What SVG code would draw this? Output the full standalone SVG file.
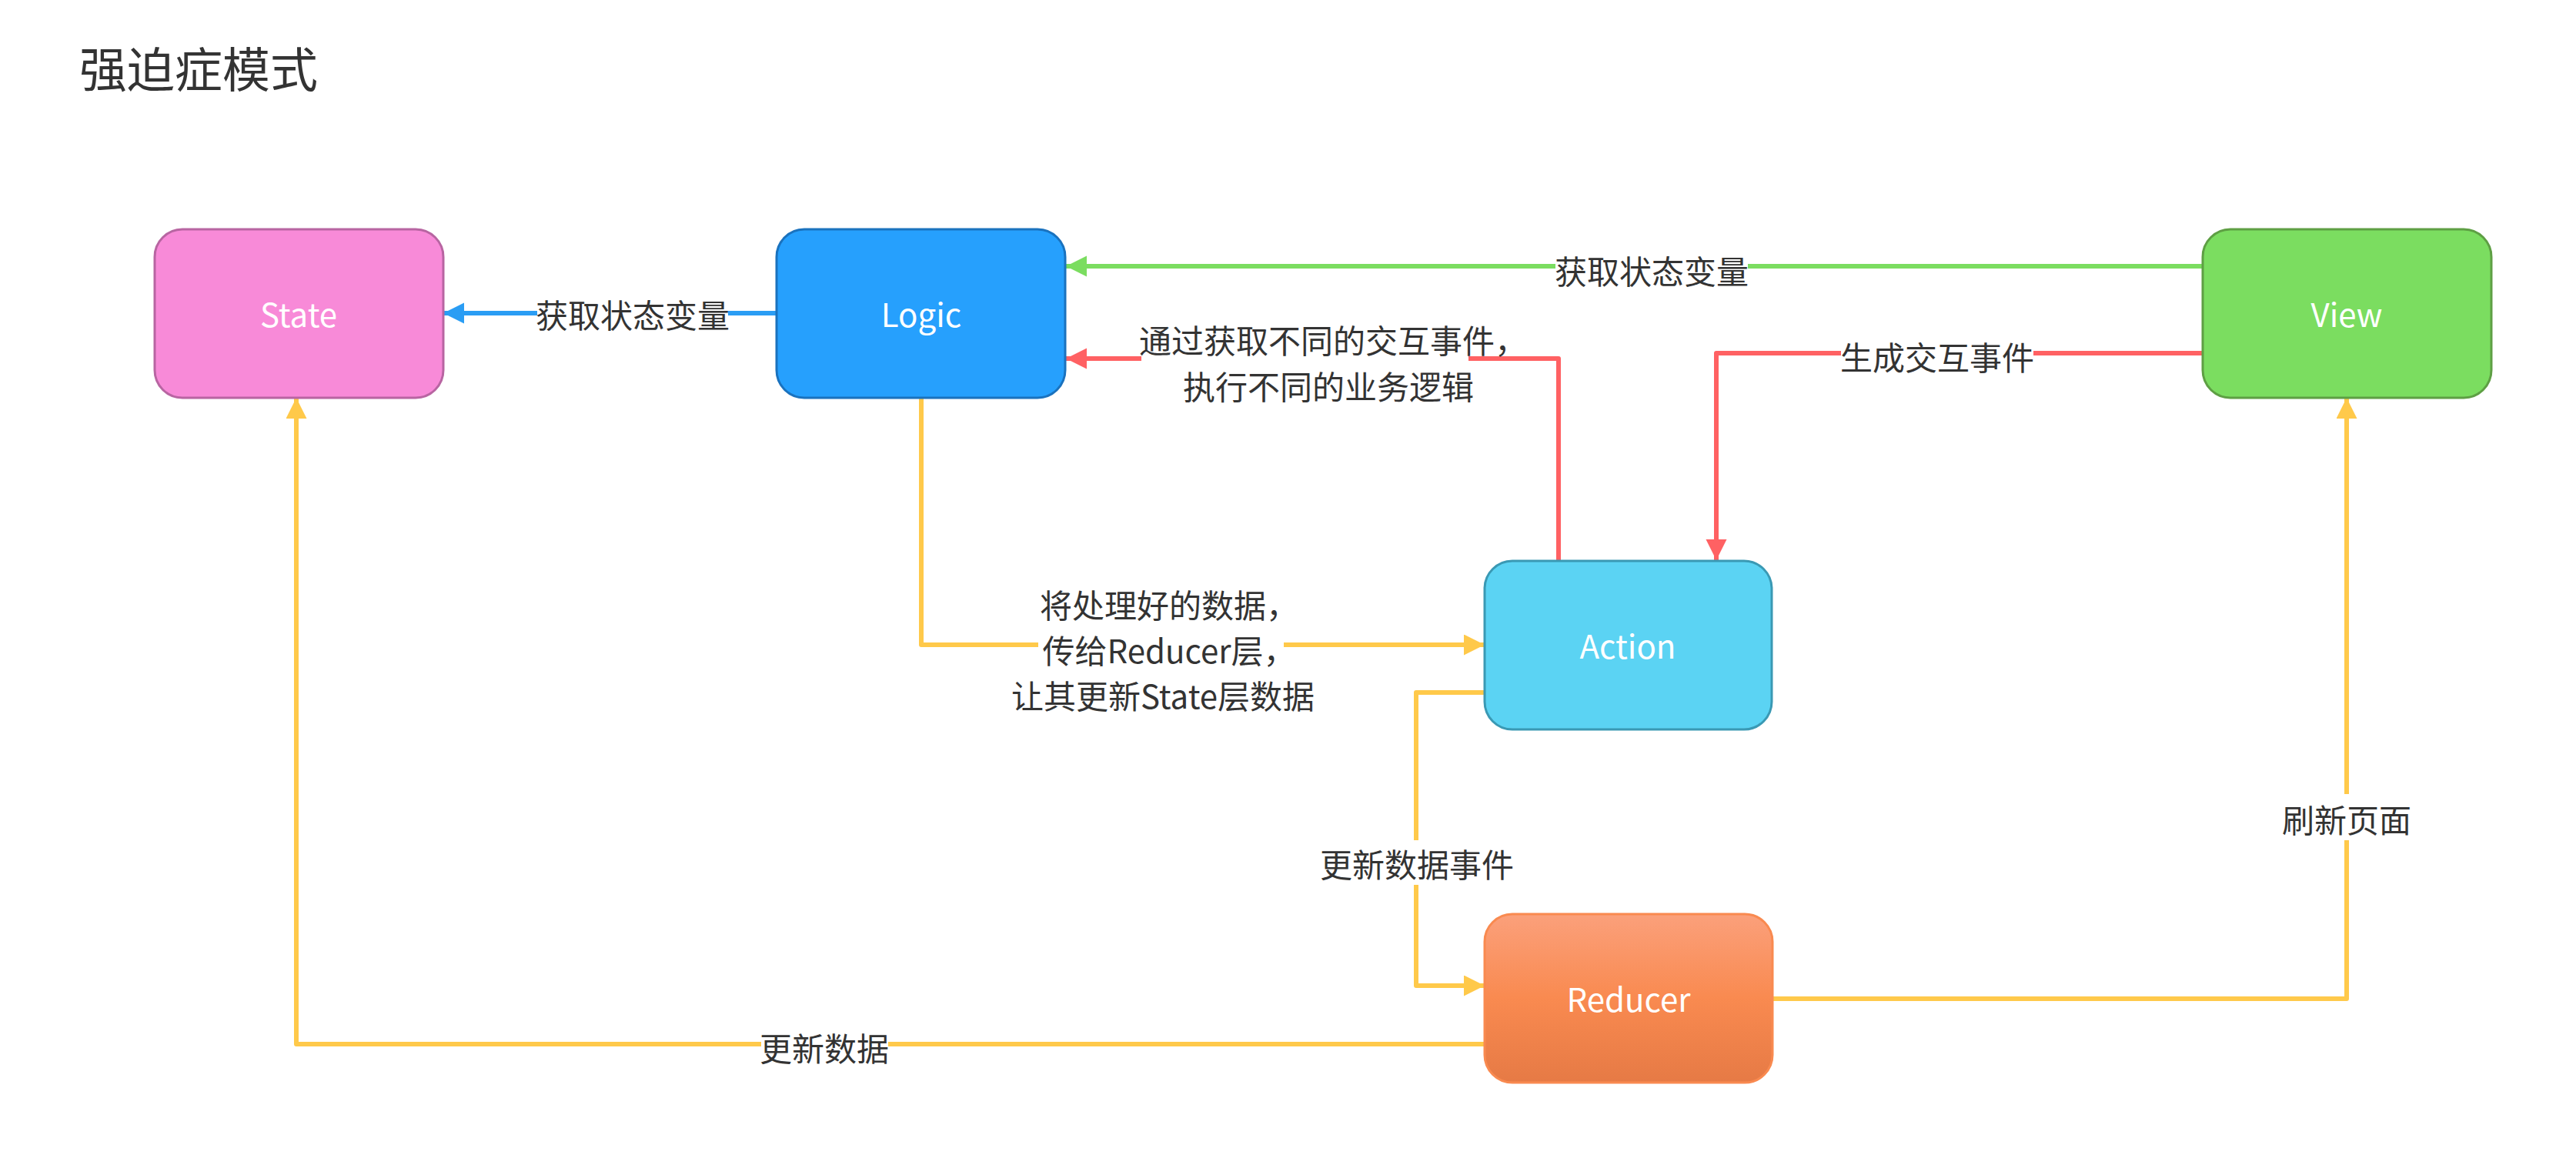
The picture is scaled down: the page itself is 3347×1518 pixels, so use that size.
<svg xmlns="http://www.w3.org/2000/svg" width="3347" height="1518" viewBox="0 0 3347 1518">
  <style>
    .node-label { font-family: "Noto Sans CJK SC", "Liberation Sans", sans-serif; font-size: 42px; fill: #ffffff; text-anchor: middle; dominant-baseline: central; }
    .edge-label { font-family: "Noto Sans CJK SC", "Liberation Sans", sans-serif; font-size: 42px; fill: #333333; text-anchor: middle; dominant-baseline: central; }
    .title { font-family: "Noto Sans CJK SC", "Liberation Sans", sans-serif; font-size: 62px; fill: #333333; }
    .edge { fill: none; stroke-width: 6; stroke-linejoin: round; }
    .bg { fill: #ffffff; }
  </style>
  <defs>
    <linearGradient id="reducerGrad" x1="0" y1="0" x2="0" y2="1">
      <stop offset="0" stop-color="#FBA07B"/>
      <stop offset="0.5" stop-color="#F98A50"/>
      <stop offset="1" stop-color="#E67A45"/>
    </linearGradient>
    <marker id="arrBlue" markerUnits="userSpaceOnUse" markerWidth="28" markerHeight="28" refX="27" refY="13.5" orient="auto">
      <path d="M0,0 L27,13.5 L0,27 Z" fill="#2A9DF4"/>
    </marker>
    <marker id="arrGreen" markerUnits="userSpaceOnUse" markerWidth="28" markerHeight="28" refX="27" refY="13.5" orient="auto">
      <path d="M0,0 L27,13.5 L0,27 Z" fill="#7BDD60"/>
    </marker>
    <marker id="arrRed" markerUnits="userSpaceOnUse" markerWidth="28" markerHeight="28" refX="27" refY="13.5" orient="auto">
      <path d="M0,0 L27,13.5 L0,27 Z" fill="#FF6163"/>
    </marker>
    <marker id="arrYellow" markerUnits="userSpaceOnUse" markerWidth="28" markerHeight="28" refX="27" refY="13.5" orient="auto">
      <path d="M0,0 L27,13.5 L0,27 Z" fill="#FFC94A"/>
    </marker>
  </defs>

  <rect x="0" y="0" width="3347" height="1518" fill="#ffffff"/>

  <text id="title" class="title" x="103" y="114">强迫症模式</text>

  <g id="connectors">
    <!-- Logic -> State -->
    <g id="edge-logic-state">
      <path class="edge" stroke="#2A9DF4" d="M1009,407 L576,407" marker-end="url(#arrBlue)"/>
      <rect class="bg" x="698" y="382" width="248" height="50"/>
      <text class="edge-label" x="822" y="407">获取状态变量</text>
    </g>
    <!-- View -> Logic -->
    <g id="edge-view-logic">
      <path class="edge" stroke="#7BDD60" d="M2861,346 L1385,346" marker-end="url(#arrGreen)"/>
      <rect class="bg" x="2021" y="321" width="250" height="50"/>
      <text class="edge-label" x="2146" y="350">获取状态变量</text>
    </g>
    <!-- Action -> Logic -->
    <g id="edge-action-logic">
      <path class="edge" stroke="#FF6163" d="M2025,728 L2025,466 L1385,466" marker-end="url(#arrRed)"/>
      <rect class="bg" x="1483" y="412" width="425" height="58"/>
      <text class="edge-label" x="1732" y="440">通过获取不同的交互事件，</text>
      <text class="edge-label" x="1726" y="500">执行不同的业务逻辑</text>
    </g>
    <!-- View -> Action -->
    <g id="edge-view-action">
      <path class="edge" stroke="#FF6163" d="M2861,459 L2230,459 L2230,728" marker-end="url(#arrRed)"/>
      <rect class="bg" x="2392" y="434" width="250" height="50"/>
      <text class="edge-label" x="2517" y="462">生成交互事件</text>
    </g>
    <!-- Logic -> Action -->
    <g id="edge-logic-action">
      <path class="edge" stroke="#FFC94A" d="M1197,517 L1197,838 L1929,838" marker-end="url(#arrYellow)"/>
      <rect class="bg" x="1349" y="814" width="319" height="50"/>
      <text class="edge-label" x="1519" y="784">将处理好的数据，</text>
      <text class="edge-label" x="1519" y="843">传给Reducer层，</text>
      <text class="edge-label" x="1511" y="902">让其更新State层数据</text>
    </g>
    <!-- Action -> Reducer -->
    <g id="edge-action-reducer">
      <path class="edge" stroke="#FFC94A" d="M1929,900 L1840,900 L1840,1281 L1929,1281" marker-end="url(#arrYellow)"/>
      <rect class="bg" x="1716" y="1092" width="250" height="58"/>
      <text class="edge-label" x="1841" y="1121">更新数据事件</text>
    </g>
    <!-- Reducer -> View -->
    <g id="edge-reducer-view">
      <path class="edge" stroke="#FFC94A" d="M2302,1298 L3049,1298 L3049,517" marker-end="url(#arrYellow)"/>
      <rect class="bg" x="2965" y="1032" width="168" height="60"/>
      <text class="edge-label" x="3049" y="1063">刷新页面</text>
    </g>
    <!-- Reducer -> State -->
    <g id="edge-reducer-state">
      <path class="edge" stroke="#FFC94A" d="M1929,1357 L385,1357 L385,517" marker-end="url(#arrYellow)"/>
      <rect class="bg" x="989" y="1332" width="165" height="50"/>
      <text class="edge-label" x="1071" y="1360">更新数据</text>
    </g>
  </g>

  <g id="node-state">
    <rect x="201" y="298" width="375" height="219" rx="36" ry="36" fill="#F88AD8" stroke="#B865A2" stroke-width="3"/>
    <text class="node-label" x="388" y="406">State</text>
  </g>
  <g id="node-logic">
    <rect x="1009" y="298" width="375" height="219" rx="36" ry="36" fill="#26A0FD" stroke="#1A72BE" stroke-width="3"/>
    <text class="node-label" x="1197" y="406">Logic</text>
  </g>
  <g id="node-view">
    <rect x="2862" y="298" width="375" height="219" rx="36" ry="36" fill="#7BDD60" stroke="#5E9F44" stroke-width="3"/>
    <text class="node-label" x="3049" y="406">View</text>
  </g>
  <g id="node-action">
    <rect x="1929" y="729" width="373" height="219" rx="36" ry="36" fill="#5BD3F3" stroke="#3A99B4" stroke-width="3"/>
    <text class="node-label" x="2115" y="837">Action</text>
  </g>
  <g id="node-reducer">
    <rect x="1929" y="1188" width="374" height="219" rx="36" ry="36" fill="url(#reducerGrad)" stroke="#F98A50" stroke-width="3"/>
    <text class="node-label" x="2116" y="1296">Reducer</text>
  </g>
</svg>
